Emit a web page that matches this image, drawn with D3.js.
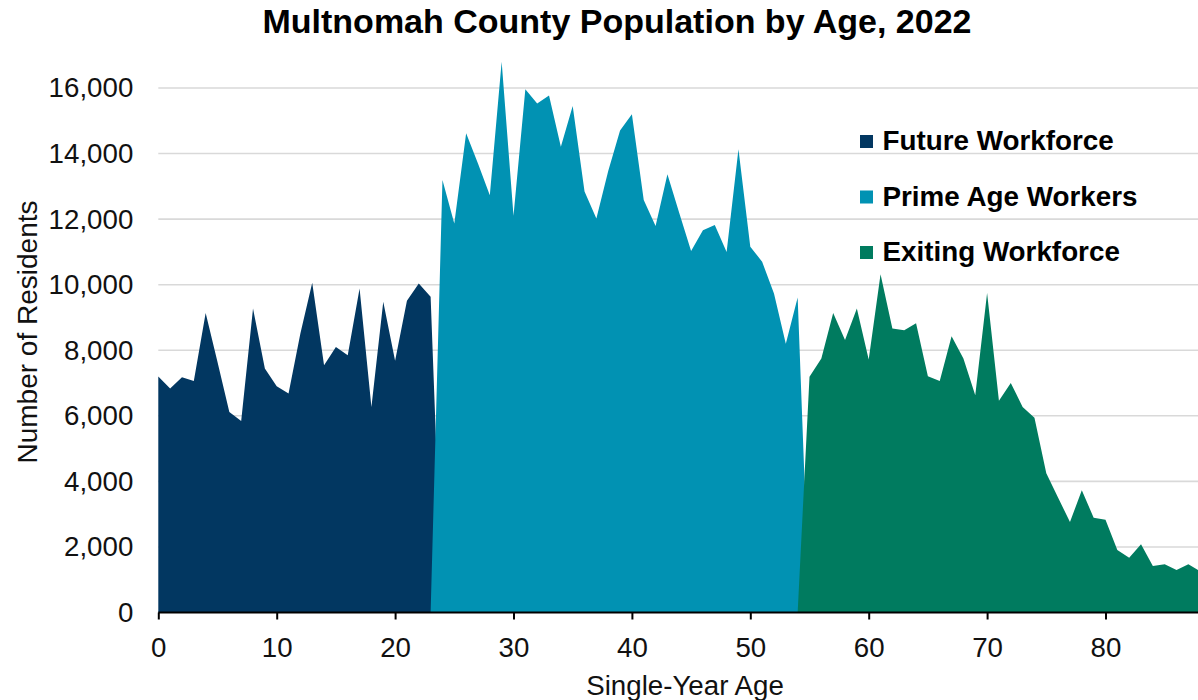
<!DOCTYPE html>
<html>
<head>
<meta charset="utf-8">
<script src="https://cdn.jsdelivr.net/npm/d3@7"></script>
<style>
  html, body { margin: 0; padding: 0; background: #fff; overflow: hidden; }
  svg { display: block; font-family: "Liberation Sans", Arial, sans-serif; }
</style>
</head>
<body>
<svg id="chart" width="1198" height="700"></svg>
<script>
// ---- Data ----
const chartTitle = "Multnomah County Population by Age, 2022";
const xAxisTitle = "Single-Year Age";
const yAxisTitle = "Number of Residents";

const seriesNames = ["Future Workforce", "Prime Age Workers", "Exiting Workforce"];
const seriesColors = ["#023761", "#0192b3", "#007b5f"];

// Future Workforce: ages 0–24 (age 24 plotted as 0, as in the source sheet)
const futureStartAge = 0;
const futureWorkforce = [7200, 6830, 7180, 7060, 9140, 7640, 6120, 5840, 9270, 7440,
  6900, 6680, 8510, 10060, 7540, 8100, 7850, 9880, 6270, 9480,
  7680, 9510, 10040, 9630, 0];

// Prime Age Workers: ages 23–55 (ends plotted as 0)
const primeStartAge = 23;
const primeAgeWorkers = [0, 13190, 11870, 14620, 13700, 12730, 16800, 12100, 15960, 15530,
  15770, 14210, 15450, 12840, 12020, 13470, 14700, 15200, 12580, 11790,
  13370, 12190, 11030, 11660, 11820, 11000, 14130, 11160, 10700, 9730,
  8200, 9610, 0];

// Exiting Workforce: ages 54–88 (age 54 plotted as 0)
const exitingStartAge = 54;
const exitingWorkforce = [0, 7190, 7750, 9140, 8310, 9270, 7720, 10320, 8660, 8610,
  8820, 7210, 7060, 8430, 7750, 6630, 9750, 6460, 7000, 6270,
  5940, 4250, 3500, 2760, 3730, 2890, 2830, 1910, 1670, 2080,
  1420, 1470, 1300, 1470, 1260];

const xTicks = [0, 10, 20, 30, 40, 50, 60, 70, 80];
const yTicks = [0, 2000, 4000, 6000, 8000, 10000, 12000, 14000, 16000];

// ---- Layout ----
const svg = d3.select("#chart");
const plotLeft = 158.3, plotBottom = 612.5;
const labelSize = 27.7;

const x = d3.scaleLinear().domain([0, 88]).range([plotLeft, plotLeft + 88 * 11.84]);
const y = d3.scaleLinear().domain([0, 16000]).range([plotBottom, 88]);

function toPoints(values, start) {
  return values.map((v, i) => ({ age: start + i, value: v }));
}
const series = [
  toPoints(futureWorkforce, futureStartAge),
  toPoints(primeAgeWorkers, primeStartAge),
  toPoints(exitingWorkforce, exitingStartAge)
];

// gridlines
svg.append("g")
  .selectAll("line")
  .data(yTicks.filter(t => t > 0))
  .join("line")
  .attr("x1", plotLeft)
  .attr("x2", 1198)
  .attr("y1", d => y(d))
  .attr("y2", d => y(d))
  .attr("stroke", "#d9d9d9")
  .attr("stroke-width", 1.6);

// areas
const area = d3.area()
  .x(d => x(d.age))
  .y0(y(0))
  .y1(d => y(d.value));

svg.append("g")
  .selectAll("path")
  .data(series)
  .join("path")
  .attr("d", d => area(d))
  .attr("fill", (d, i) => seriesColors[i]);

// x axis
const xAxis = svg.append("g")
  .attr("transform", `translate(0,${plotBottom})`)
  .call(d3.axisBottom(x).tickValues(xTicks).tickSize(7).tickSizeOuter(0).tickPadding(18));
xAxis.select(".domain").attr("stroke", "#000").attr("stroke-width", 2)
  .attr("d", `M${plotLeft},0H1198`);
xAxis.selectAll(".tick line").attr("stroke", "#000").attr("stroke-width", 2);
xAxis.selectAll(".tick text")
  .attr("font-size", labelSize)
  .attr("fill", "#111")
  .attr("font-family", "Liberation Sans, Arial, sans-serif");

// y axis (labels only)
const yAxis = svg.append("g")
  .attr("transform", `translate(${plotLeft},0)`)
  .call(d3.axisLeft(y).tickValues(yTicks).tickFormat(d3.format(",")).tickSize(0).tickPadding(25));
yAxis.select(".domain").remove();
yAxis.selectAll(".tick text")
  .attr("font-size", labelSize)
  .attr("fill", "#111")
  .attr("font-family", "Liberation Sans, Arial, sans-serif");

// title
svg.append("text")
  .attr("x", 617)
  .attr("y", 33)
  .attr("text-anchor", "middle")
  .attr("font-size", 34)
  .attr("font-weight", "bold")
  .attr("fill", "#000")
  .text(chartTitle);

// axis titles
svg.append("text")
  .attr("x", 685)
  .attr("y", 695)
  .attr("text-anchor", "middle")
  .attr("font-size", labelSize)
  .attr("fill", "#111")
  .text(xAxisTitle);

svg.append("text")
  .attr("transform", "translate(37,332) rotate(-90)")
  .attr("text-anchor", "middle")
  .attr("font-size", 28)
  .attr("fill", "#111")
  .text(yAxisTitle);

// legend
const legend = svg.append("g")
  .selectAll("g")
  .data(seriesNames)
  .join("g")
  .attr("transform", (d, i) => `translate(860,${150 + i * 55.5})`);
legend.append("rect")
  .attr("x", 0).attr("y", -15)
  .attr("width", 13).attr("height", 13)
  .attr("fill", (d, i) => seriesColors[i]);
legend.append("text")
  .attr("x", 22.5)
  .attr("y", 0)
  .attr("font-size", 27.8)
  .attr("font-weight", "bold")
  .attr("fill", "#000")
  .text(d => d);
</script>
</body>
</html>
